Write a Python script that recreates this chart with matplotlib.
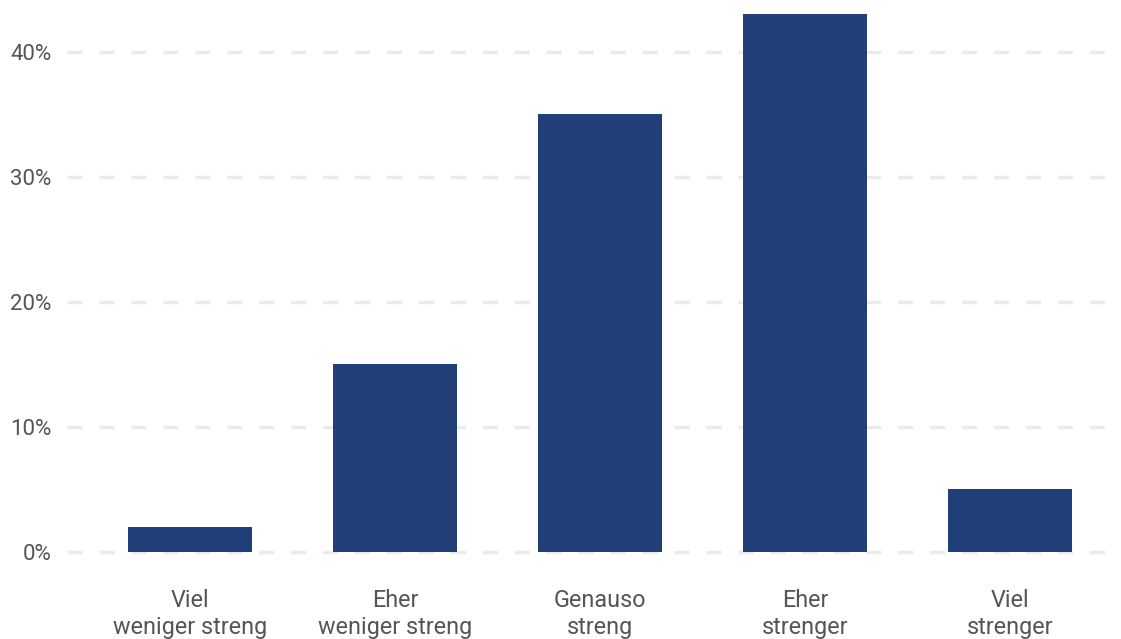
import matplotlib
matplotlib.use("Agg")
import matplotlib.pyplot as plt
from matplotlib.ticker import FuncFormatter

categories = ["Viel\nweniger streng", "Eher\nweniger streng", "Genauso\nstreng", "Eher\nstrenger", "Viel\nstrenger"]
values = [2, 15, 35, 43, 5]
yticks = [0, 10, 20, 30, 40]

plt.rcParams['font.family'] = ['Roboto', 'DejaVu Sans']

W, H = 1121, 639
fig = plt.figure(figsize=(W / 100, H / 100), dpi=100)
ax = fig.add_axes([67 / W, 79 / H, 1054 / W, 560 / H])

x = list(range(len(categories)))
ax.bar(x, values, width=0.605, color="#21407a", zorder=2)

ax.set_xlim(-0.6, 4.54)
ax.set_ylim(-0.68, 44.15)
ax.set_yticks(yticks)
ax.yaxis.set_major_formatter(FuncFormatter(lambda v, p: f"{int(v)}%"))
ax.set_xticks(x)
ax.set_xticklabels(categories)

ax.grid(axis="y", color="#ebebeb", linewidth=2.5, linestyle=(0, (4.4, 4.8)), zorder=1)
ax.set_axisbelow(True)
for s in ax.spines.values():
    s.set_visible(False)
ax.tick_params(axis="both", length=0, labelcolor="#555555")
ax.tick_params(axis="y", pad=11, labelsize=16)
ax.tick_params(axis="x", pad=21, labelsize=16.8)

fig.savefig("out.png", dpi=100)
